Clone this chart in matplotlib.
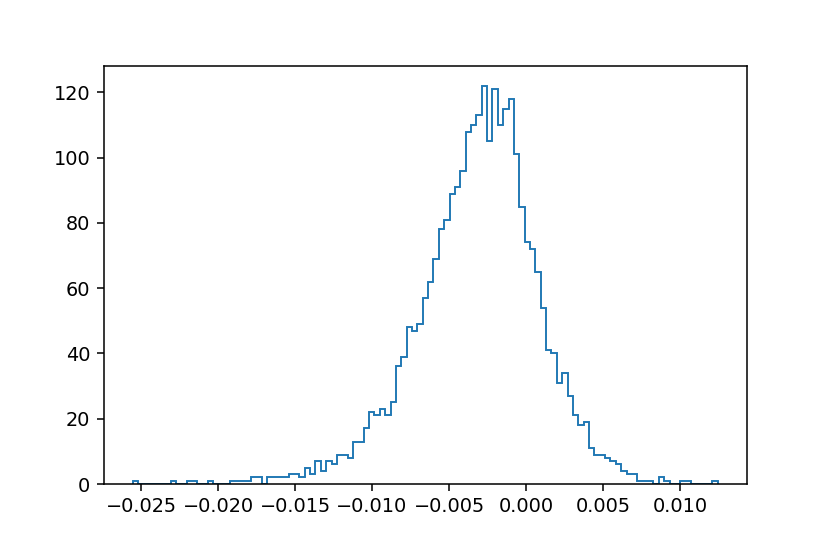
import numpy as np
import matplotlib
matplotlib.use('Agg')
import matplotlib.pyplot as plt

# ================================================================
# Data (step outline, 109 bins)
# ================================================================
x_min = -0.025526
x_max = 0.012461

counts = [
    1, 0, 0, 0, 0, 0, 0, 1, 0, 0,
    1, 1, 0, 0, 1, 0, 0, 0, 1, 1,
    1, 1, 2, 2, 0, 2, 2, 2, 2, 3,
    3, 2, 5, 3, 7, 4, 7, 6, 9, 9,
    8, 13, 13, 17, 22, 21, 23, 21, 25, 36,
    39, 48, 47, 49, 57, 62, 69, 78, 81, 89,
    91, 96, 108, 110, 113, 122, 105, 121, 110, 115,
    118, 101, 85, 74, 72, 65, 54, 41, 40, 31,
    34, 27, 21, 18, 19, 11, 9, 9, 8, 7,
    6, 4, 3, 3, 1, 1, 1, 0, 2, 1,
    0, 0, 1, 1, 0, 0, 0, 0, 1,
]

edges = np.linspace(x_min, x_max, len(counts) + 1)

# ================================================================
# Plot
# ================================================================
fig = plt.figure(figsize=(6.0, 4.005), dpi=138.34)
ax = fig.add_axes([0.125, 0.1264, 0.775, 0.7545])

ax.hist(edges[:-1], bins=edges, weights=counts, histtype='step')

fig.savefig('out.png', dpi=138.34)
